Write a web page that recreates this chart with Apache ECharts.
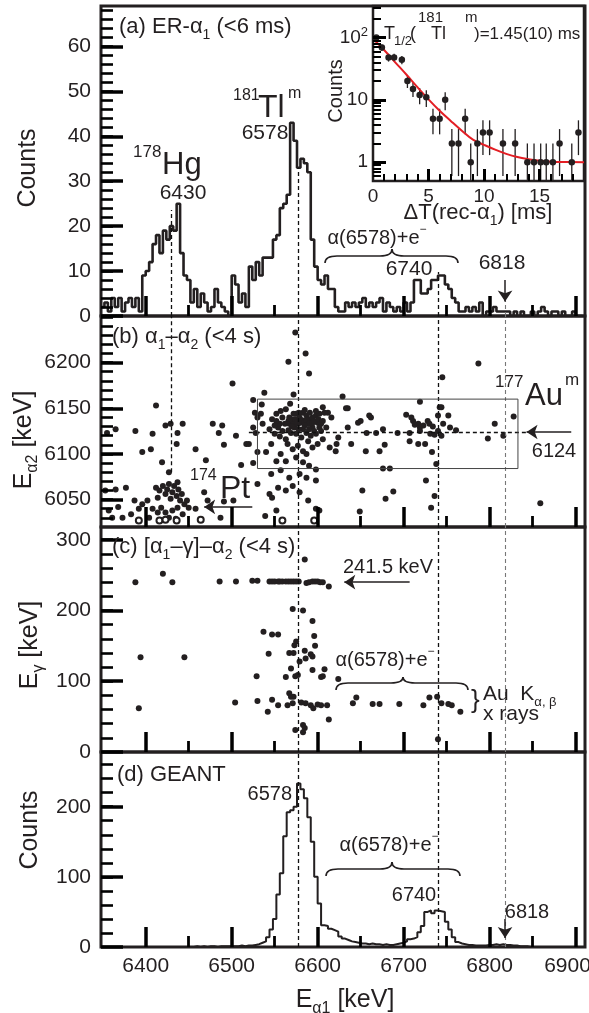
<!DOCTYPE html>
<html>
<head>
<meta charset="utf-8">
<script src="https://cdn.jsdelivr.net/npm/echarts@6/dist/echarts.min.js"></script>
<style>
html, body { margin: 0; padding: 0; background: #fff; }
#chart { width: 589px; height: 1013px; }
</style>
</head>
<body>
<div id="chart"></div>
<script>
// ---- data ----
var binStart = 6348, binWidth = 4;

// (a) ER-alpha1 counts, 4 keV bins from 6348 keV
var countsA = [
  2, 3, 1, 4, 2, 4, 1, 3, 4, 2,
  4, 1, 9, 10, 12, 16, 18, 14, 19, 17,
  20, 19, 25, 14, 9, 8, 3, 6, 2, 5,
  3, 1, 2, 6, 3, 2, 1, 0, 9, 7,
  3, 5, 2, 11, 8, 12, 9, 13, 13, 13,
  17, 18, 24, 25, 27, 43, 39, 33, 35, 34,
  32, 17, 11, 8, 7, 9, 6, 6, 2, 1,
  1, 3, 2, 3, 2, 3, 4, 2, 3, 2,
  3, 4, 1, 3, 2, 1, 2, 1, 3, 1,
  3, 8, 8, 5, 5, 6, 8, 8, 9, 9,
  7, 6, 4, 3, 1, 1, 2, 1, 2, 1,
  3, 0, 1, 1, 2, 1, 1, 1, 1, 0,
  1, 0, 1, 0, 0, 1, 0, 1, 2, 1,
  0, 1, 1, 0, 1, 0, 0, 1, 0, 0
];

// (d) GEANT simulation, same binning
var countsGeant = [
  0, 0, 0, 0, 0, 0, 0, 0, 0, 0,
  0, 0, 0, 0, 0, 0, 0, 0, 0, 0,
  0, 0, 0, 0, 0, 0, 0, 1, 0, 1,
  0, 1, 1, 0, 1, 1, 1, 1, 1, 1,
  2, 1, 2, 2, 3, 4, 6, 8, 14, 25,
  40, 75, 105, 158, 192, 195, 200, 233, 225, 212,
  185, 150, 100, 62, 31, 30, 26, 24, 22, 15,
  12, 10, 8, 7, 6, 5, 5, 4, 5, 4,
  4, 3, 4, 3, 3, 4, 5, 6, 8, 11,
  12, 14, 21, 30, 50, 52, 48, 52, 51, 50,
  36, 25, 14, 7, 5, 4, 3, 3, 2, 2,
  2, 2, 3, 3, 4, 3, 4, 3, 3, 2,
  2, 1, 1, 1, 0, 0, 0, 0, 0, 0,
  0, 0, 0, 0, 0, 0, 0, 0, 0, 0
];

// (b) alpha1 - alpha2 correlations [E_alpha1, E_alpha2]
var alphaAlpha = [
  [6574,6233],[6586,6210],[6566,6201],[6590,6188],[6501,6177],[6745,6184],[6787,6199],[6538,6167],
  [6629,6163],[6572,6165],[6525,6159],[6412,6153],[6719,6157],[6828,6141],[6744,6151],[6635,6150],
  [6355,6123],[6365,6127],[6388,6125],[6408,6122],[6423,6131],[6429,6133],[6437,6123],[6436,6111],
  [6443,6133],[6396,6102],[6406,6105],[6458,6105],[6478,6133],[6489,6131],[6485,6123],[6491,6110],
  [6505,6120],[6517,6111],[6511,6088],[6470,6093],[6419,6091],[6427,6080],
  [6353,6060],[6365,6061],[6377,6063],[6368,6042],[6357,6038],[6373,6030],[6383,6034],[6392,6040],
  [6387,6049],[6396,6045],[6402,6049],[6408,6040],[6412,6063],[6414,6052],[6416,6060],[6420,6065],
  [6423,6056],[6425,6061],[6427,6067],[6429,6051],[6431,6058],[6433,6065],[6436,6054],[6438,6061],
  [6440,6049],[6442,6056],[6437,6069],[6445,6045],[6448,6049],[6450,6041],[6418,6041],[6423,6036],
  [6431,6038],[6437,6041],[6443,6034],[6414,6036],[6458,6040],[6468,6058],[6472,6049],[6487,6030],
  [6491,6048],[6502,6049],[6361,6030],[6427,6030],[6435,6029],[6404,6030],
  [6535,6154],[6534,6144],[6536,6133],[6527,6145],[6530,6140],[6525,6129],[6528,6123],[6520,6111],
  [6530,6102],[6525,6090],[6540,6102],[6546,6111],[6550,6122],[6547,6138],[6552,6144],[6557,6147],
  [6563,6149],[6568,6155],[6544,6127],[6554,6129],[6559,6125],[6556,6119],[6563,6116],[6567,6140],
  [6571,6136],[6575,6144],[6579,6140],[6583,6145],[6587,6142],[6590,6138],[6594,6140],[6598,6142],
  [6602,6144],[6606,6151],[6612,6145],[6616,6140],[6567,6133],[6573,6129],[6577,6133],[6583,6127],
  [6589,6133],[6594,6129],[6600,6134],[6604,6125],[6610,6129],[6569,6123],[6575,6122],[6581,6118],
  [6587,6123],[6592,6120],[6598,6122],[6565,6111],[6571,6105],[6577,6109],[6583,6103],[6589,6114],
  [6594,6107],[6600,6111],[6606,6116],[6614,6107],[6622,6111],[6557,6100],[6552,6092],[6563,6092],
  [6575,6096],[6583,6091],[6587,6100],[6590,6087],[6598,6083],[6546,6078],[6557,6082],[6567,6074],
  [6571,6065],[6579,6078],[6587,6074],[6598,6071],[6530,6067],[6544,6056],[6547,6052],[6554,6063],
  [6563,6060],[6579,6058],[6589,6049],[6552,6038],[6598,6040],[6602,6038],[6539,6032],
  [6566,6136],[6569,6138],[6572,6133],[6574,6138],[6576,6135],[6580,6134],[6582,6137],[6585,6135],
  [6587,6137],[6590,6133],[6594,6134],[6596,6136],[6601,6138],[6604,6133],[6606,6136],[6570,6130],
  [6578,6127],[6585,6131],[6590,6127],[6596,6125],[6602,6129],[6572,6144],[6578,6145],[6585,6148],
  [6591,6145],[6598,6147],[6608,6145],[6566,6126],[6562,6133],[6559,6140],[6556,6133],[6552,6136],
  [6550,6131],
  [6633,6150],[6635,6129],[6647,6134],[6650,6136],[6660,6142],[6662,6140],[6657,6123],[6668,6123],
  [6676,6127],[6693,6123],[6639,6111],[6624,6118],[6621,6103],[6656,6103],[6672,6103],[6678,6110],
  [6676,6084],[6684,6084],[6652,6060],[6679,6051],[6688,6059],[6726,6071],[6736,6054],[6732,6041],
  [6738,6089],[6707,6114],[6717,6111],[6725,6111],[6733,6102],
  [6703,6143],[6709,6140],[6711,6136],[6717,6133],[6719,6129],[6713,6132],[6723,6131],[6728,6136],
  [6730,6133],[6734,6130],[6740,6142],[6742,6151],[6752,6142],[6746,6133],[6754,6129],[6740,6125],
  [6744,6120],[6736,6121],[6731,6122],[6761,6126],[6719,6125],[6707,6123],
  [6798,6117],[6806,6133],[6816,6120],[6859,6046],[6649,6037]
];
var alphaAlphaOpen = [[6392,6027],[6416,6027],[6423,6028],[6436,6027],[6464,6028],[6559,6027],[6596,6027]];

// (c) [alpha1-gamma]-alpha2 [E_alpha1, E_gamma]
var alphaGamma = [
  [6388,240],[6420,252],[6431,240],[6486,241],[6505,241],[6524,242],[6530,242],
  [6544,241],[6547,241],[6550,241],[6554,241],[6556,241],[6559,241],[6563,241],[6566,241],
  [6569,241],[6572,241],[6575,241],[6578,241],
  [6585,272],[6587,239],[6590,240],[6594,241],[6597,241],[6600,241],[6603,240],[6606,240],[6613,234],
  [6571,202],[6583,200],[6594,185],[6537,170],[6547,166],[6554,166],[6596,164],
  [6575,156],[6573,151],[6567,140],[6572,140],[6585,143],[6592,138],[6594,135],[6586,132],
  [6579,128],[6597,150],[6543,139],
  [6394,134],[6445,134],[6529,107],[6563,106],[6569,118],[6577,109],[6574,107],[6594,116],
  [6604,106],[6606,107],[6608,117],[6624,103],
  [6567,83],[6569,78],[6572,78],[6392,62],[6504,70],[6530,72],[6547,74],[6554,66],[6542,57],
  [6565,66],[6571,69],[6581,70],[6586,69],[6592,66],[6595,62],[6600,67],[6604,66],[6611,66],[6613,46],
  [6574,31],[6583,38],[6585,34],[6583,28],
  [6645,77],[6641,69],[6664,68],[6672,68],[6695,68],[6723,66],[6730,77],[6739,78],[6744,69],
  [6752,68],[6756,66],[6766,57],[6740,18]
];

// inset: decay-time distribution
var decayT = [0.3,0.8,1.4,1.9,2.6,3.1,3.6,4.2,4.8,5.4,6.0,6.5,7.1,7.7,8.3,8.8,9.4,9.9,10.5,11.7,12.8,13.9,14.5,15.1,15.6,16.2,16.8,17.9,18.5];
var decayN = [100,69,48,48,44,20,15,12,11,5,5,10,2,2,5,1,2,3,3,2,2,1,1,1,1,1,2,1,3];
var decayErr = [10,8.3,6.9,6.9,6.6,4.5,3.9,3.5,3.3,2.2,2.2,3.2,1.4,1.4,2.2,1,1.4,1.7,1.7,1.4,1.4,1,1,1,1,1,1.4,1,1.7];
var fitT = [0.2,1,2,3,4,5,6,7,8,9,10,11,12,13,14,15,16,17,19];
var fitN = [88,63,40,25.5,16,10.2,6.7,4.6,3.2,2.3,1.9,1.59,1.36,1.21,1.12,1.06,1.02,1.01,1.0];

// tick labels
var xMajorTicks = [6400,6500,6600,6700,6800,6900];
var xMinorTicks = [6450,6550,6650,6750,6850];
var yTicksA = [0,10,20,30,40,50,60];
var yTicksB = [6050,6100,6150,6200];
var yTicksC = [0,100,200,300];
var yTicksD = [0,100,200];
var insetXTicks = [0,5,10,15];
var insetYTicks = [1,10,100];
var insetYMinor = [0.6,0.7,0.8,0.9,2,3,4,5,6,7,8,9,20,30,40,50,60,70,80,90,200,300];

// ---- drawing ----
var XMIN = 6348, XMAX = 6911, PLOT_W = 484;
var INK = '#231f20';
var FONT = "'Liberation Sans', Arial, Helvetica, sans-serif";

function steps(lo, hi, step) {
    var a = [];
    for (var v = lo; v <= hi + 1e-9; v += step) a.push(v);
    return a;
}

function histData(counts) {
    var d = [];
    counts.forEach(function (c, i) { d.push([binStart + i * binWidth, c]); });
    d.push([binStart + counts.length * binWidth, counts[counts.length - 1]]);
    return d;
}

function xLabel(v) { return v === 6900 ? '{r|6900}' : String(v); }

var panels = [
    { top: 6,   height: 310, min: 0,    max: 69,   ticks: yTicksA, minor: steps(2, 68, 2) },
    { top: 316, height: 211, min: 6020, max: 6251, ticks: yTicksB, minor: steps(6030, 6250, 10) },
    { top: 527, height: 225, min: 0,    max: 318,  ticks: yTicksC, minor: steps(20, 300, 20) },
    { top: 752, height: 195, min: 0,    max: 278,  ticks: yTicksD, minor: steps(20, 260, 20) }
];
var INSET = { left: 373, top: 6, width: 211, height: 175, xmax: 19, ymin: 0.5, ymax: 320 };

var grids = panels.map(function (p) {
    return { left: 101, top: p.top, width: PLOT_W, height: p.height };
}).concat([{ left: INSET.left, top: INSET.top, width: INSET.width, height: INSET.height,
             backgroundColor: '#fff', borderWidth: 2.5 }])
  .map(function (g) {
    return Object.assign({ show: true, borderColor: INK, borderWidth: 3, backgroundColor: 'transparent',
                           containLabel: false, outerBoundsMode: 'none', z: 0 }, g);
});

var xAxes = panels.map(function (p, gi) {
    return {
        gridIndex: gi, type: 'value', min: XMIN, max: XMAX,
        axisLine: { show: false }, axisTick: { show: false }, splitLine: { show: false },
        axisLabel: { show: gi === 3, customValues: xMajorTicks, formatter: xLabel, margin: 9,
                     fontSize: 21, fontFamily: FONT, color: INK,
                     rich: { r: { fontSize: 21, fontFamily: FONT, color: INK, padding: [0, 16, 0, 0] } } }
    };
}).concat([{
    gridIndex: 4, type: 'value', min: 0, max: INSET.xmax,
    axisLine: { show: false }, axisTick: { show: false }, splitLine: { show: false },
    axisLabel: { customValues: insetXTicks, margin: 6, fontSize: 19, fontFamily: FONT, color: INK }
}]);

var yAxes = panels.map(function (p, gi) {
    return {
        gridIndex: gi, type: 'value', min: p.min, max: p.max,
        axisLine: { show: false }, axisTick: { show: false }, splitLine: { show: false },
        axisLabel: { customValues: p.ticks, formatter: function (v) { return String(v); }, margin: 10,
                     fontSize: 21, fontFamily: FONT, color: INK }
    };
}).concat([{
    gridIndex: 4, type: 'log', logBase: 10, min: INSET.ymin, max: INSET.ymax,
    axisLine: { show: false }, axisTick: { show: false }, splitLine: { show: false },
    axisLabel: {
        margin: 5, fontSize: 19, fontFamily: FONT, color: INK,
        formatter: function (v) {
            if (Math.abs(v - 1) < 1e-6) return '1';
            if (Math.abs(v - 10) < 1e-5) return '10';
            if (Math.abs(v - 100) < 1e-4) return '10{u|2}';
            return '';
        },
        rich: { u: { fontSize: 13, fontFamily: FONT, color: INK, verticalAlign: 'top', padding: [0, 0, 10, 0] } }
    }
}]);

// inward tick marks, as short segments in each panel's own data space
function tickLines(gi, items) {
    return {
        type: 'lines', coordinateSystem: 'cartesian2d', xAxisIndex: gi, yAxisIndex: gi,
        silent: true, z: 20, symbol: 'none', clip: false,
        lineStyle: { color: '#000', width: 3.5, opacity: 1 },
        data: items.map(function (it) {
            return { coords: it[0], lineStyle: { color: '#000', width: it[1], opacity: 1 } };
        })
    };
}
function panelTickItems(p) {
    var dy = (p.max - p.min) / p.height;     // data units per pixel
    var dx = (XMAX - XMIN) / PLOT_W;
    var it = [];
    xMajorTicks.forEach(function (v) { it.push([[[v, p.min], [v, p.min + 20 * dy]], 3.5]); });
    xMinorTicks.forEach(function (v) { it.push([[[v, p.min], [v, p.min + 11 * dy]], 2.8]); });
    p.ticks.forEach(function (v) { it.push([[[XMIN, v], [XMIN + 22 * dx, v]], 3.5]); });
    p.minor.forEach(function (v) { it.push([[[XMIN, v], [XMIN + 12 * dx, v]], 2.6]); });
    return it;
}
function insetTickItems() {
    var decadePx = INSET.height / Math.log10(INSET.ymax / INSET.ymin);
    var dx = INSET.xmax / INSET.width;
    var it = [];
    steps(1, 18, 1).forEach(function (v) {
        var major = insetXTicks.indexOf(v) >= 0;
        it.push([[[v, INSET.ymin], [v, INSET.ymin * Math.pow(10, (major ? 12 : 7) / decadePx)]], major ? 3 : 2]);
    });
    insetYTicks.forEach(function (v) { it.push([[[0, v], [13 * dx, v]], 3]); });
    insetYMinor.forEach(function (v) { it.push([[[0, v], [8 * dx, v]], 2]); });
    return it;
}

function richSet(size) {
    var small = Math.round(size * 0.62);
    return {
        b: { fontSize: size, fontFamily: FONT, fill: INK, lineHeight: size + 8, verticalAlign: 'middle' },
        s: { fontSize: small, fontFamily: FONT, fill: INK, lineHeight: small, verticalAlign: 'bottom' },
        u: { fontSize: small, fontFamily: FONT, fill: INK, lineHeight: small, verticalAlign: 'top' }
    };
}

function tx(x, y, text, size, align, rot) {
    var rich = text.indexOf('{') >= 0;
    return {
        type: 'text', x: x, y: y, rotation: rot || 0, z: 50, silent: true,
        style: {
            text: text, fontSize: size, fontFamily: FONT, fill: INK,
            textAlign: align || 'left', align: align || 'left',
            textVerticalAlign: 'middle', verticalAlign: 'middle',
            rich: rich ? richSet(size) : undefined
        }
    };
}

function bez(x1, y1, x2, y2, cx, cy) {
    return { type: 'bezierCurve', z: 50, silent: true,
             shape: { x1: x1, y1: y1, x2: x2, y2: y2, cpx1: cx, cpy1: cy },
             style: { stroke: INK, fill: null, lineWidth: 1.6 } };
}
function seg(x1, y1, x2, y2) {
    return { type: 'line', z: 50, silent: true,
             shape: { x1: x1, y1: y1, x2: x2, y2: y2 },
             style: { stroke: INK, lineWidth: 1.6 } };
}
function brace(x1, x2, xm, yt, ym, yb) {
    var r = 12;
    return [
        bez(x1, yb, x1 + r, ym, x1, ym),
        seg(x1 + r, ym, xm - r, ym),
        bez(xm - r, ym, xm, yt, xm, ym),
        bez(xm, yt, xm + r, ym, xm, ym),
        seg(xm + r, ym, x2 - r, ym),
        bez(x2 - r, ym, x2, yb, x2, ym)
    ];
}

var DARK = { color: '#111', width: 1.3, type: [4, 3], opacity: 1 };
var GREY = { color: '#777', width: 1.1, type: [4, 3], opacity: 1 };

function refLines(gi, list) {
    return {
        type: 'lines', coordinateSystem: 'cartesian2d', xAxisIndex: gi, yAxisIndex: gi,
        silent: true, z: 4, symbol: 'none',
        data: list.map(function (l) { return { coords: [l[0], l[1]], lineStyle: l[2] }; })
    };
}
function arrows(gi, list) {
    return {
        type: 'lines', coordinateSystem: 'cartesian2d', xAxisIndex: gi, yAxisIndex: gi,
        silent: true, z: 5, symbol: ['none', 'arrow'], symbolSize: 11,
        lineStyle: { color: INK, width: 1.5, opacity: 1 },
        data: list.map(function (l) { return { coords: l }; })
    };
}

var series = [
    // (a) histogram
    { type: 'line', xAxisIndex: 0, yAxisIndex: 0, step: 'end', showSymbol: false, z: 3,
      lineStyle: { color: INK, width: 2.6 }, data: histData(countsA) },
    refLines(0, [
        [[6430, 0], [6430, 23.6], DARK],
        [[6578, 0], [6578, 33], DARK],
        [[6740, 0], [6740, 9.8], DARK],
        [[6818, 0], [6818, 3.4], GREY]
    ]),
    arrows(0, [[[6818, 8.0], [6818, 3.2]]]),

    // (b) alpha-alpha
    { type: 'scatter', xAxisIndex: 1, yAxisIndex: 1, symbolSize: 6, z: 3,
      itemStyle: { color: INK, opacity: 1 }, data: alphaAlpha },
    { type: 'scatter', xAxisIndex: 1, yAxisIndex: 1, symbol: 'emptyCircle', symbolSize: 6, z: 3,
      itemStyle: { color: INK, borderWidth: 1.6, opacity: 1 }, data: alphaAlphaOpen },
    refLines(1, [
        [[6430, 6080], [6430, 6251], DARK],
        [[6578, 6020], [6578, 6251], DARK],
        [[6740, 6020], [6740, 6251], DARK],
        [[6818, 6020], [6818, 6251], GREY],
        [[6520, 6124], [6843, 6124], DARK]
    ]),
    { type: 'lines', coordinateSystem: 'cartesian2d', xAxisIndex: 1, yAxisIndex: 1, polyline: true,
      silent: true, z: 4, lineStyle: { color: '#444', width: 1, opacity: 1 },
      data: [{ coords: [[6530, 6084], [6833, 6084], [6833, 6160], [6530, 6160], [6530, 6084]] }] },
    arrows(1, [[[6524, 6042], [6468, 6042]], [[6895, 6124], [6843, 6124]]]),

    // (c) alpha-gamma
    { type: 'scatter', xAxisIndex: 2, yAxisIndex: 2, symbolSize: 6, z: 3,
      itemStyle: { color: INK, opacity: 1 }, data: alphaGamma },
    refLines(2, [
        [[6578, 0], [6578, 318], DARK],
        [[6740, 0], [6740, 318], DARK],
        [[6818, 0], [6818, 318], GREY]
    ]),
    arrows(2, [[[6707, 240], [6631, 240]]]),

    // (d) GEANT
    { type: 'line', xAxisIndex: 3, yAxisIndex: 3, step: 'end', showSymbol: false, z: 3,
      lineStyle: { color: INK, width: 2 }, data: histData(countsGeant) },
    refLines(3, [
        [[6578, 0], [6578, 278], DARK],
        [[6740, 0], [6740, 278], DARK],
        [[6818, 0], [6818, 278], GREY]
    ]),
    arrows(3, [[[6818, 40], [6818, 13]]]),

    // inset
    { type: 'custom', xAxisIndex: 4, yAxisIndex: 4, z: 4, silent: true,
      data: decayT.map(function (t, i) { return [t, decayN[i], decayErr[i]]; }),
      renderItem: function (params, api) {
          var t = api.value(0), n = api.value(1), e = api.value(2);
          var top = api.coord([t, n + e]);
          var bot = api.coord([t, Math.max(n - e, 0.52)]);
          return { type: 'line', shape: { x1: top[0], y1: top[1], x2: bot[0], y2: bot[1] },
                   style: { stroke: INK, lineWidth: 1.3 } };
      } },
    { type: 'line', xAxisIndex: 4, yAxisIndex: 4, smooth: 0.4, showSymbol: false, z: 5,
      lineStyle: { color: '#e31e24', width: 2 },
      data: fitT.map(function (t, i) { return [t, fitN[i]]; }) },
    { type: 'scatter', xAxisIndex: 4, yAxisIndex: 4, symbolSize: 6.5, z: 6,
      itemStyle: { color: INK, opacity: 1 },
      data: decayT.map(function (t, i) { return [t, decayN[i]]; }) }
];

panels.forEach(function (p, gi) { series.push(tickLines(gi, panelTickItems(p))); });
series.push(tickLines(4, insetTickItems()));

var texts = [
    // panel (a)
    tx(119, 27, '{b|(a) ER-α}{s|1}{b| (<6 ms)}', 22),
    tx(133, 152, '178', 17),
    tx(162, 165, 'Hg', 31),
    tx(183, 193, '6430', 21, 'center'),
    tx(233, 96, '181', 16),
    tx(258, 108, 'Tl', 32),
    tx(288, 94, 'm', 16),
    tx(265, 133, '6578', 21, 'center'),
    tx(377, 238, '{b|α(6578)+e}{u|−}', 20, 'center'),
    tx(409, 269, '6740', 21, 'center'),
    tx(502, 263, '6818', 21, 'center'),
    // inset
    tx(384, 34, 'T', 18),
    tx(394, 41, '1/2', 13),
    tx(410, 34, '(', 18),
    tx(418, 18, '181', 15),
    tx(431, 34, 'Tl', 18),
    tx(465, 18, 'm', 15),
    tx(474, 34, ')=1.45(10) ms', 17),
    tx(336, 91, 'Counts', 20, 'center', Math.PI / 2),
    tx(478, 213, '{b|ΔT(rec-α}{s|1}{b|) [ms]}', 22, 'center'),
    // panel (b)
    tx(112, 337, '{b|(b) α}{s|1}{b|–α}{s|2}{b| (<4 s)}', 22),
    tx(495, 382, '177', 17),
    tx(525, 396, 'Au', 31),
    tx(565, 380, 'm', 17),
    tx(554, 451, '6124', 20, 'center'),
    tx(190, 476, '174', 16),
    tx(220, 489, 'Pt', 32),
    // panel (c)
    tx(112, 547, '{b|(c) [α}{s|1}{b|–γ]–α}{s|2}{b| (<4 s)}', 22),
    tx(388, 567, '241.5 keV', 20, 'center'),
    tx(385, 660, '{b|α(6578)+e}{u|−}', 20, 'center'),
    tx(471, 701, '}', 26),
    tx(483, 694, '{b|Au  K}{s|α, β}', 21),
    tx(483, 714, 'x rays', 21),
    // panel (d)
    tx(117, 775, '(d) GEANT', 22),
    tx(292, 794, '6578', 20, 'right'),
    tx(389, 845, '{b|α(6578)+e}{u|−}', 20, 'center'),
    tx(414, 895, '6740', 20, 'center'),
    tx(527, 912, '6818', 20, 'center'),
    // axis titles
    tx(28, 168, 'Counts', 25, 'center', Math.PI / 2),
    tx(24, 440, '{b|E}{s|α2}{b| [keV]}', 25, 'center', Math.PI / 2),
    tx(30, 645, '{b|E}{s|γ}{b| [keV]}', 25, 'center', Math.PI / 2),
    tx(30, 830, 'Counts', 25, 'center', Math.PI / 2),
    tx(345, 1000, '{b|E}{s|α1}{b| [keV]}', 25, 'center')
];

var shapes = [].concat(
    brace(325, 458, 392, 249, 256, 263),
    brace(336, 468, 403, 677, 683, 690),
    brace(326, 460, 392, 862, 869, 876)
);

var chart = echarts.init(document.getElementById('chart'));
chart.setOption({
    animation: false,
    backgroundColor: '#fff',
    grid: grids,
    xAxis: xAxes,
    yAxis: yAxes,
    series: series,
    graphic: { elements: texts.concat(shapes) }
});
</script>
</body>
</html>
